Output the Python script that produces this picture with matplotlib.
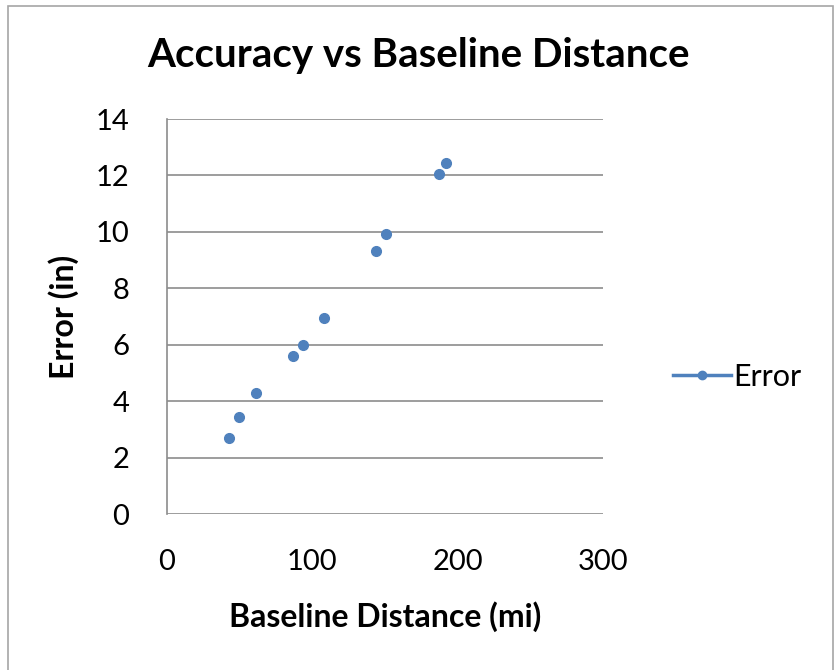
import matplotlib
matplotlib.use("Agg")
import matplotlib.pyplot as plt
from matplotlib.patches import Rectangle

plt.rcParams['font.family'] = ['Lato', 'DejaVu Sans']

baseline_mi = [42.8, 49.5, 61.6, 86.8, 93.7, 107.9, 144.0, 150.9, 187.3, 191.7]
error_in = [2.69, 3.43, 4.30, 5.59, 5.98, 6.95, 9.33, 9.91, 12.06, 12.43]
x_ticks = [0, 100, 200, 300]
y_ticks = [0, 2, 4, 6, 8, 10, 12, 14]

W, H = 839, 670
fig = plt.figure(figsize=(W / 100, H / 100), dpi=100)
fig.patch.set_facecolor('white')

# chart border
fig.add_artist(Rectangle((7.5 / W, -0.05), (832.5 - 7.5) / W, 1.05 - 5.5 / H,
                         transform=fig.transFigure, fill=False,
                         edgecolor='#a6a6a6', linewidth=1.2))

ax = fig.add_axes([166.7 / W, 1 - 514.3 / H, (603.3 - 166.7) / W, (514.3 - 119) / H])
ax.plot(baseline_mi, error_in, linestyle='none', marker='o', markersize=7,
        color='#4F81BD', label='Error')
ax.set_xlim(0, 300)
ax.set_ylim(0, 14)
ax.set_xticks(x_ticks)
ax.set_yticks(y_ticks)
ax.tick_params(axis='both', length=0, labelsize=21, colors='black')
ax.tick_params(axis='x', pad=25)
ax.tick_params(axis='y', pad=27)
ax.grid(axis='y', color='#8c8c8c', linewidth=1.2)
ax.set_axisbelow(True)
for s in ['top', 'right', 'bottom']:
    ax.spines[s].set_visible(False)
ax.spines['left'].set_color('#8c8c8c')
ax.spines['left'].set_linewidth(1.2)

ax.set_xlabel('Baseline Distance (mi)', fontsize=23, fontweight='bold', labelpad=19)
ax.set_ylabel('Error (in)', fontsize=23, fontweight='bold', labelpad=12)

fig.text(418 / W, 1 - 56 / H, 'Accuracy vs Baseline Distance', fontsize=29,
         fontweight='bold', ha='center', va='center')

# legend
fig.legend(handles=[plt.Line2D([], [], color='#4F81BD', marker='o', markersize=6,
                               linewidth=2.5)],
           labels=['Error'], loc='center left',
           bbox_to_anchor=(661 / W, 1 - 377 / H), frameon=False, fontsize=22,
           handlelength=1.9, handletextpad=0.05, borderaxespad=0)

fig.savefig('out.png', dpi=100)
